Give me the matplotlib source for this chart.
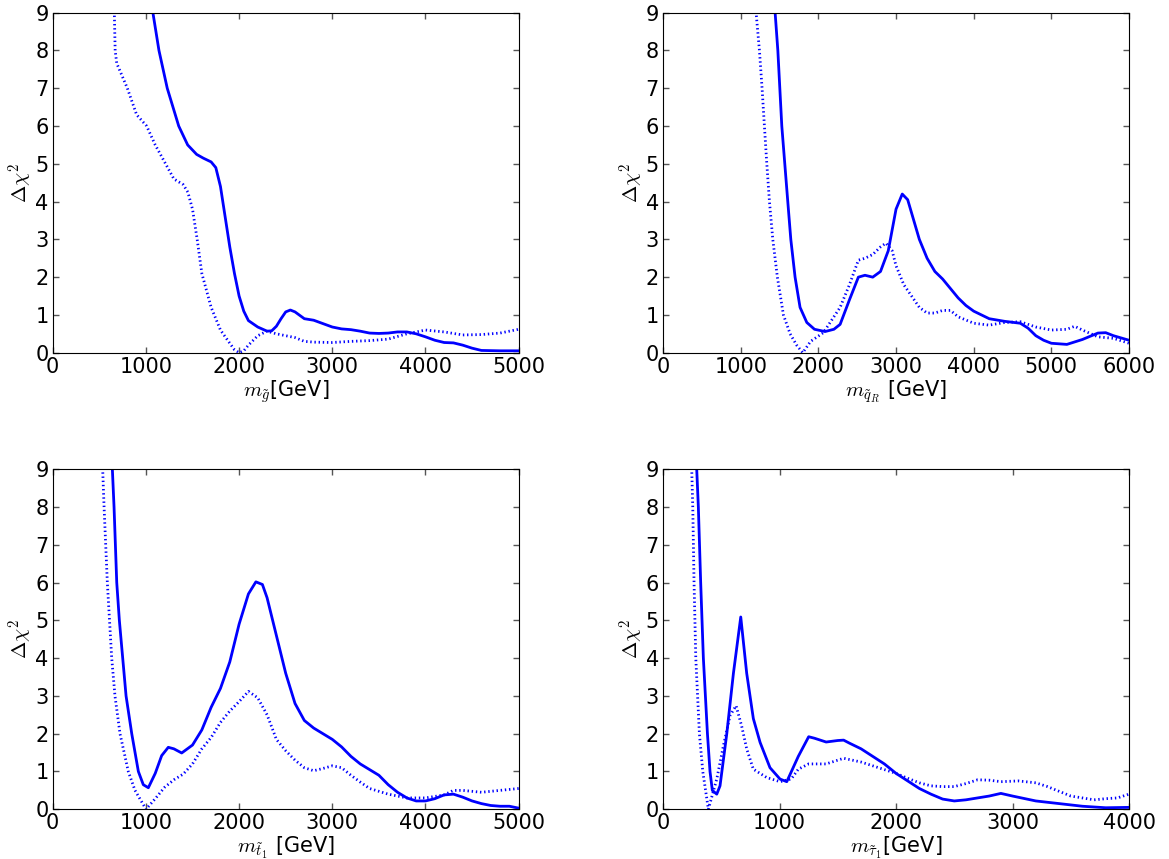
import numpy as np
import matplotlib
matplotlib.use('Agg')
import matplotlib.pyplot as plt

plt.rcParams['mathtext.fontset'] = 'cm'
plt.rcParams['font.family'] = 'DejaVu Sans'
plt.rcParams['lines.scale_dashes'] = False

# ---------------- gluino ----------------
gl_x_solid = [1060, 1075, 1140, 1229, 1352, 1448, 1544, 1616, 1700, 1750, 1800, 1850, 1900, 1950, 2000,
              2050, 2100, 2200, 2300, 2350, 2400, 2450, 2500, 2550, 2600, 2700, 2800, 2900, 3000, 3100,
              3200, 3300, 3400, 3500, 3600, 3700, 3800, 3900, 4000, 4100, 4200, 4300, 4400, 4500, 4600,
              4800, 5000]
gl_y_solid = [9.6, 9.0, 8.0, 7.0, 6.0, 5.5, 5.25, 5.15, 5.05, 4.9, 4.4, 3.6, 2.8, 2.1, 1.5,
              1.1, 0.85, 0.68, 0.57, 0.58, 0.7, 0.9, 1.08, 1.13, 1.08, 0.9, 0.86, 0.77, 0.68, 0.63,
              0.61, 0.57, 0.52, 0.51, 0.52, 0.55, 0.55, 0.5, 0.42, 0.33, 0.27, 0.26, 0.2, 0.12, 0.06,
              0.05, 0.05]
gl_x_dot = [655, 661, 670, 687, 801, 900, 1008, 1100, 1169, 1300, 1400, 1450, 1500, 1550, 1600,
            1700, 1800, 1900, 1950, 2000, 2050, 2100, 2200, 2300, 2400, 2500, 2600, 2700, 2800, 3000,
            3200, 3400, 3600, 3800, 4000, 4200, 4400, 4600, 4800, 5000]
gl_y_dot = [9.6, 9.0, 8.0, 7.66, 7.0, 6.3, 6.0, 5.5, 5.19, 4.6, 4.45, 4.25, 3.8, 3.0, 2.1,
            1.2, 0.6, 0.25, 0.08, 0.0, 0.05, 0.2, 0.45, 0.57, 0.5, 0.45, 0.4, 0.3, 0.28, 0.27,
            0.3, 0.32, 0.36, 0.5, 0.6, 0.55, 0.47, 0.48, 0.52, 0.62]

# ---------------- squark R ----------------
sq_x_solid = [1420, 1443, 1478, 1529, 1606, 1645, 1700, 1764, 1851, 1950, 2086, 2200, 2280, 2400, 2515,
              2600, 2700, 2800, 2900, 3000, 3080, 3150, 3200, 3300, 3400, 3500, 3600, 3700, 3800, 3900,
              4000, 4200, 4400, 4600, 4700, 4800, 4900, 5000, 5200, 5400, 5600, 5700, 5800, 6000]
sq_y_solid = [9.8, 9.0, 8.0, 6.0, 4.0, 3.0, 2.0, 1.2, 0.8, 0.62, 0.56, 0.62, 0.75, 1.4, 2.0,
              2.05, 2.0, 2.15, 2.7, 3.8, 4.2, 4.05, 3.7, 3.0, 2.5, 2.15, 1.95, 1.7, 1.45, 1.25,
              1.1, 0.9, 0.83, 0.78, 0.65, 0.45, 0.33, 0.25, 0.22, 0.35, 0.52, 0.53, 0.45, 0.33]
sq_x_dot = [1180, 1198, 1241, 1275, 1305, 1336, 1370, 1413, 1472, 1550, 1636, 1720, 1799, 1900, 2064,
            2280, 2400, 2515, 2600, 2700, 2800, 2870, 2950, 3000, 3100, 3200, 3300, 3400, 3500, 3600,
            3700, 3800, 4000, 4200, 4400, 4600, 4800, 5000, 5200, 5300, 5400, 5600, 5800, 6000]
sq_y_dot = [9.6, 9.0, 8.0, 7.0, 6.0, 5.0, 4.0, 3.0, 2.0, 1.0, 0.5, 0.2, 0.0, 0.3, 0.53,
            1.2, 1.8, 2.45, 2.5, 2.6, 2.8, 2.9, 2.7, 2.3, 1.8, 1.5, 1.2, 1.05, 1.05, 1.12,
            1.12, 0.95, 0.78, 0.73, 0.8, 0.82, 0.68, 0.6, 0.62, 0.7, 0.6, 0.42, 0.38, 0.25]

# ---------------- stop 1 ----------------
st_x_solid = [620, 640, 658, 687, 715, 751, 787, 848, 919, 972, 1026, 1100, 1169, 1240, 1300,
              1384, 1500, 1600, 1700, 1800, 1900, 2000, 2100, 2180, 2250, 2300, 2400, 2500, 2600, 2700,
              2800, 3000, 3100, 3200, 3300, 3400, 3500, 3600, 3700, 3800, 3900, 4000, 4100, 4200, 4300,
              4400, 4500, 4600, 4700, 4800, 4900, 5000]
st_y_solid = [9.8, 9.0, 8.0, 6.0, 5.0, 4.0, 3.0, 2.0, 1.0, 0.65, 0.57, 0.95, 1.42, 1.64, 1.6,
              1.49, 1.7, 2.1, 2.7, 3.2, 3.9, 4.9, 5.7, 6.02, 5.95, 5.6, 4.6, 3.6, 2.8, 2.35,
              2.15, 1.85, 1.65, 1.4, 1.2, 1.05, 0.9, 0.65, 0.45, 0.3, 0.22, 0.22, 0.28, 0.38, 0.4,
              0.32, 0.22, 0.15, 0.1, 0.08, 0.08, 0.03]
st_x_dot = [520, 536, 551, 586, 633, 668, 722, 811, 883, 1001, 1100, 1200, 1300, 1400, 1500,
            1600, 1700, 1800, 1900, 2000, 2100, 2200, 2300, 2400, 2500, 2600, 2700, 2800, 2900, 3000,
            3100, 3200, 3300, 3400, 3600, 3800, 4000, 4200, 4300, 4400, 4600, 4800, 5000]
st_y_dot = [9.8, 9.0, 8.0, 6.0, 4.0, 3.0, 2.0, 1.0, 0.5, 0.0, 0.28, 0.58, 0.78, 0.93, 1.2,
            1.6, 1.9, 2.3, 2.6, 2.85, 3.12, 2.95, 2.5, 1.85, 1.55, 1.3, 1.1, 1.02, 1.08, 1.15,
            1.1, 0.9, 0.72, 0.55, 0.4, 0.3, 0.3, 0.38, 0.5, 0.5, 0.45, 0.5, 0.55]

# ---------------- stau 1 ----------------
ta_x_solid = [280, 289, 303, 323, 346, 381, 403, 423, 461, 489, 547, 604, 667, 718, 775,
              833, 918, 1004, 1062, 1161, 1250, 1300, 1400, 1500, 1550, 1600, 1700, 1800, 1900, 2000,
              2100, 2200, 2300, 2400, 2500, 2600, 2700, 2800, 2900, 3000, 3200, 3400, 3600, 3800, 4000]
ta_y_solid = [9.8, 9.0, 8.0, 6.0, 4.0, 2.0, 1.0, 0.5, 0.4, 0.62, 2.0, 3.6, 5.09, 3.6, 2.4,
              1.77, 1.1, 0.8, 0.73, 1.4, 1.92, 1.88, 1.78, 1.82, 1.83, 1.75, 1.6, 1.4, 1.2, 0.95,
              0.75, 0.55, 0.4, 0.27, 0.22, 0.25, 0.3, 0.35, 0.42, 0.35, 0.22, 0.15, 0.08, 0.04, 0.05]
ta_x_dot = [238, 246, 255, 266, 281, 312, 341, 389, 461, 518, 575, 627, 675, 718, 775,
            890, 1004, 1100, 1161, 1250, 1400, 1550, 1700, 1800, 1900, 2000, 2100, 2200, 2300, 2400,
            2500, 2600, 2700, 2800, 2900, 3050, 3200, 3300, 3500, 3700, 3800, 3900, 4000]
ta_y_dot = [9.8, 9.0, 8.0, 6.0, 4.0, 2.0, 1.0, 0.0, 0.8, 1.68, 2.48, 2.74, 2.2, 1.6, 1.06,
            0.84, 0.73, 0.8, 1.06, 1.2, 1.2, 1.35, 1.25, 1.15, 1.05, 0.95, 0.82, 0.7, 0.62, 0.6,
            0.6, 0.68, 0.78, 0.77, 0.73, 0.75, 0.7, 0.6, 0.35, 0.25, 0.28, 0.3, 0.4]

xlabels = [r'$m_{\tilde{g}}$[GeV]', r'$m_{\tilde{q}_R}$ [GeV]',
           r'$m_{\tilde{t}_1}$ [GeV]', r'$m_{\tilde{\tau}_1}$[GeV]']
xmax = [5000, 6000, 5000, 4000]

panels = [(gl_x_solid, gl_y_solid, gl_x_dot, gl_y_dot),
          (sq_x_solid, sq_y_solid, sq_x_dot, sq_y_dot),
          (st_x_solid, st_y_solid, st_x_dot, st_y_dot),
          (ta_x_solid, ta_y_solid, ta_x_dot, ta_y_dot)]

fig = plt.figure(figsize=(11.69, 8.59), dpi=100)
lefts = [0.0451, 0.5672, 0.0451, 0.5672]
bottoms = [0.5894, 0.5894, 0.0579, 0.0579]
w, h = 0.3986, 0.3958

for i in range(4):
    ax = fig.add_axes([lefts[i], bottoms[i], w, h])
    xs, ys, xd, yd = panels[i]
    ax.plot(xs, ys, '-', color='b', linewidth=2)
    ln, = ax.plot(xd, yd, color='b', linewidth=2)
    ln.set_dashes([1, 2])
    ax.set_xlim(0, xmax[i])
    ax.set_ylim(0, 9)
    ax.set_xticks(np.arange(0, xmax[i] + 1, 1000))
    ax.set_yticks(range(0, 10))
    ax.tick_params(direction='in', top=True, right=True, length=4, width=1,
                   color='#555555', labelsize=15, pad=3)
    ax.set_xlabel(xlabels[i], fontsize=15, labelpad=1)
    ax.set_ylabel(r'$\Delta\chi^2$', fontsize=15, labelpad=0)

fig.savefig('out.png', dpi=100)
